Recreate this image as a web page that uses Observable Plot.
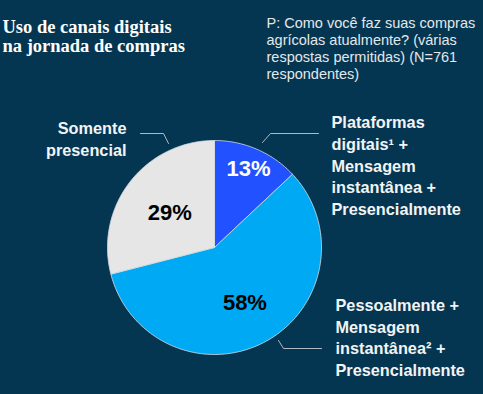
<!DOCTYPE html>
<html>
<head>
<meta charset="utf-8">
<script src="https://cdn.jsdelivr.net/npm/d3@7"></script>
<script src="https://cdn.jsdelivr.net/npm/@observablehq/plot@0.6"></script>
<style>
  html, body { margin: 0; padding: 0; background: #053651; }
  #chart { width: 483px; height: 394px; overflow: hidden; }
</style>
</head>
<body>
<div id="chart"></div>
<script>
// ---- data ----
const categories = [
  "Plataformas\ndigitais¹ +\nMensagem\ninstantânea +\nPresencialmente",
  "Pessoalmente +\nMensagem\ninstantânea² +\nPresencialmente",
  "Somente\npresencial"
];
const values = [13, 58, 29];
const pctLabels = ["13%", "58%", "29%"];
const sliceColors = ["#2251FF", "#00A9F4", "#E6E6E6"];
const pctColors = ["#ffffff", "#000000", "#000000"];
const title = "Uso de canais digitais\nna jornada de compras";
const subtitle = "P: Como você faz suas compras\nagrícolas atualmente? (várias\nrespostas permitidas) (N=761\nrespondentes)";

// ---- layout ----
const W = 483, H = 394;
const cx = 214, cy = 247, R = 107;
const labelRadius = [0.8, 0.59, 0.53];
const pt = (a, r) => [cx + r * Math.sin(a), cy - r * Math.cos(a)];

const arcs = d3.pie().sort(null).value(d => d)(values);

const slicePts = [];
arcs.forEach((a, i) => {
  const n = Math.max(2, Math.ceil((a.endAngle - a.startAngle) / (Math.PI / 180)));
  slicePts.push({i, p: [cx, cy]});
  for (let k = 0; k <= n; k++) {
    const ang = a.startAngle + (a.endAngle - a.startAngle) * k / n;
    slicePts.push({i, p: pt(ang, R)});
  }
  slicePts.push({i, p: [cx, cy]});
});

const pctData = arcs.map((a, i) => {
  const m = (a.startAngle + a.endAngle) / 2;
  const [x, y] = pt(m, R * labelRadius[i]);
  return {x, y, label: pctLabels[i], color: pctColors[i]};
});

const calloutsRight = [
  {x: 331, y: 164, label: categories[0]},
  {x: 335, y: 336, label: categories[1]}
];
const calloutsLeft = [
  {x: 126, y: 137.5, label: categories[2]}
];
const leaders = [
  {g: 0, x: 318, y: 133}, {g: 0, x: 270, y: 133}, {g: 0, x: 262, y: 142},
  {g: 1, x: 321, y: 348}, {g: 1, x: 283, y: 348}, {g: 1, x: 278, y: 340},
  {g: 2, x: 140, y: 133}, {g: 2, x: 163, y: 133}, {g: 2, x: 168, y: 143}
];

const calloutStyle = {
  x: "x", y: "y", text: "label",
  fill: "#f2f4f5", fontSize: 16.3, fontWeight: "bold",
  lineHeight: 1.34, lineAnchor: "middle",
  fontFamily: "Liberation Sans, Arial, sans-serif"
};

const chart = Plot.plot({
  width: W, height: H,
  margin: 0,
  x: {domain: [0, W], range: [0, W], axis: null},
  y: {domain: [0, H], range: [0, H], axis: null},
  color: {type: "identity"},
  style: {background: "transparent", overflow: "visible"},
  marks: [
    Plot.line(slicePts, {
      x: d => d.p[0], y: d => d.p[1], z: "i",
      fill: d => sliceColors[d.i],
      stroke: "#d4dde3", strokeWidth: 0.8, curve: "linear"
    }),
    Plot.text(pctData, {
      x: "x", y: "y", text: "label", fill: "color",
      fontSize: 22, fontWeight: "bold", fontFamily: "Liberation Sans, Arial, sans-serif"
    }),
    Plot.line(leaders, {x: "x", y: "y", z: "g", stroke: "#aebbc4", strokeWidth: 1}),
    Plot.text(calloutsRight, {...calloutStyle, textAnchor: "start"}),
    Plot.text(calloutsLeft, {...calloutStyle, textAnchor: "end"}),
    Plot.text([title], {
      x: 2, y: 35.5, text: d => d, textAnchor: "start", lineAnchor: "middle",
      fill: "#ffffff", fontSize: 18.5, fontWeight: "bold", lineHeight: 1.04,
      fontFamily: "Liberation Serif, Georgia, serif"
    }),
    Plot.text([subtitle], {
      x: 266, y: 47.5, text: d => d, textAnchor: "start", lineAnchor: "middle",
      fill: "#e3e8eb", fontSize: 14.5, lineHeight: 1.17,
      fontFamily: "Liberation Sans, Arial, sans-serif"
    })
  ]
});
document.getElementById("chart").appendChild(chart);
</script>
</body>
</html>
